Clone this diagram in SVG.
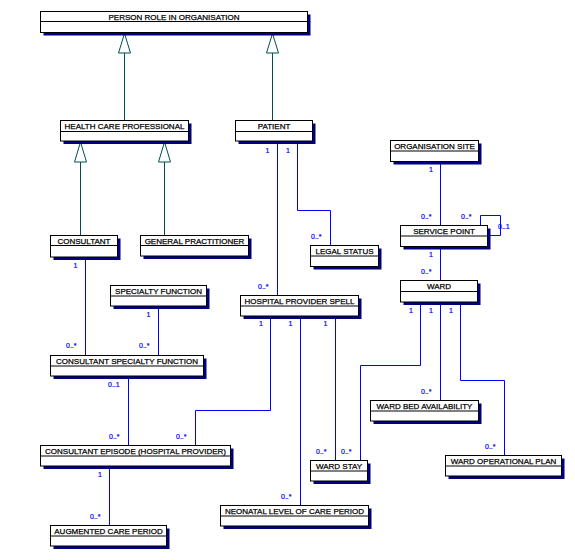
<svg xmlns="http://www.w3.org/2000/svg" width="575" height="560" viewBox="0 0 575 560">
<style>
.sh{fill:#000080}
.bx{fill:#fff;stroke:#000;stroke-width:1}
.dv{stroke:#000;stroke-width:1}
.t{font-family:"Liberation Sans",Arial,sans-serif;font-size:8px;fill:#000;stroke:#000;stroke-width:0.25;text-anchor:middle}
.c{fill:none;stroke:#0000ff;stroke-width:1}
.g{fill:none;stroke:#005050;stroke-width:1}
.gt{fill:#fff;stroke:#005050;stroke-width:1}
.m{font-family:"Liberation Sans",Arial,sans-serif;font-size:7px;fill:#0000ff;stroke:#0000ff;stroke-width:0.2}
</style>
<rect width="575" height="560" fill="#fff"/>
<g id="connectors">
<path class="g" d="M124.5,53V120.5"/><path class="gt" d="M124.5,33.5L118.5,53H130.5Z"/>
<path class="g" d="M272.5,53V120.5"/><path class="gt" d="M272.5,33.5L266.5,53H278.5Z"/>
<path class="g" d="M80.5,162V235.5"/><path class="gt" d="M80.5,142L74.5,162H86.5Z"/>
<path class="g" d="M164.5,162V235.5"/><path class="gt" d="M164.5,142L158.5,162H170.5Z"/>
<path class="c" d="M277.5,141V295.5"/>
<path class="c" d="M297.5,141V210.5H330.5V245.5"/>
<path class="c" d="M440.5,161.5V225.5"/>
<path class="c" d="M480.5,225.5V215.5H500.5V235.5H487.5"/>
<path class="c" d="M440.5,246.5V280.5"/>
<path class="c" d="M420.5,302V365.5H360.5V460.5"/>
<path class="c" d="M440.5,302V400.5"/>
<path class="c" d="M460.5,302V380.5H504.5V455.5"/>
<path class="c" d="M270.5,316V410.5H195.5V445.5"/>
<path class="c" d="M300.5,316V505.5"/>
<path class="c" d="M335.5,316V460.5"/>
<path class="c" d="M85.5,257V355.5"/>
<path class="c" d="M158.5,306V355.5"/>
<path class="c" d="M128.5,376V445.5"/>
<path class="c" d="M109.5,466V525.5"/>
<text class="m" x="265.5" y="153">1</text>
<text class="m" x="258" y="289">0..*</text>
<text class="m" x="286" y="153">1</text>
<text class="m" x="311" y="239">0..*</text>
<text class="m" x="429" y="172">1</text>
<text class="m" x="421" y="219">0..*</text>
<text class="m" x="461" y="219">0..*</text>
<text class="m" x="498" y="229">0..1</text>
<text class="m" x="429" y="257">1</text>
<text class="m" x="421" y="274">0..*</text>
<text class="m" x="409" y="313">1</text>
<text class="m" x="429" y="313">1</text>
<text class="m" x="449" y="313">1</text>
<text class="m" x="421" y="394">0..*</text>
<text class="m" x="485" y="449">0..*</text>
<text class="m" x="341" y="454">0..*</text>
<text class="m" x="316" y="454">0..*</text>
<text class="m" x="259" y="326">1</text>
<text class="m" x="288.5" y="326">1</text>
<text class="m" x="323.5" y="326">1</text>
<text class="m" x="176" y="439">0..*</text>
<text class="m" x="109" y="439">0..*</text>
<text class="m" x="108" y="387">0..1</text>
<text class="m" x="281" y="499">0..*</text>
<text class="m" x="98" y="477">1</text>
<text class="m" x="90" y="519">0..*</text>
<text class="m" x="73.5" y="268">1</text>
<text class="m" x="66" y="348">0..*</text>
<text class="m" x="146.5" y="317">1</text>
<text class="m" x="139" y="348">0..*</text>
</g>
<g id="person-role"><rect class="sh" x="43.5" y="14.5" width="267" height="21"/><rect class="bx" x="40.5" y="11.5" width="267" height="21"/><path class="dv" d="M40.5,21.5H307.5"/><text class="t" x="174" y="19.5">PERSON ROLE IN ORGANISATION</text></g>
<g id="hcp"><rect class="sh" x="63.5" y="123.5" width="128" height="20.5"/><rect class="bx" x="60.5" y="120.5" width="128" height="20.5"/><path class="dv" d="M60.5,131.5H188.5"/><text class="t" x="124.5" y="129">HEALTH CARE PROFESSIONAL</text></g>
<g id="patient"><rect class="sh" x="238.5" y="123.5" width="77" height="20.5"/><rect class="bx" x="235.5" y="120.5" width="77" height="20.5"/><path class="dv" d="M235.5,131.5H312.5"/><text class="t" x="274" y="129">PATIENT</text></g>
<g id="consultant"><rect class="sh" x="53.5" y="238.5" width="67" height="21.5"/><rect class="bx" x="50.5" y="235.5" width="67" height="21.5"/><path class="dv" d="M50.5,245.5H117.5"/><text class="t" x="84" y="244">CONSULTANT</text></g>
<g id="gp"><rect class="sh" x="143.5" y="238.5" width="108" height="20.5"/><rect class="bx" x="140.5" y="235.5" width="108" height="20.5"/><path class="dv" d="M140.5,245.5H248.5"/><text class="t" x="194.5" y="244">GENERAL PRACTITIONER</text></g>
<g id="legal-status"><rect class="sh" x="313.5" y="248.5" width="68" height="21"/><rect class="bx" x="310.5" y="245.5" width="68" height="21"/><path class="dv" d="M310.5,256H378.5"/><text class="t" x="344.5" y="254">LEGAL STATUS</text></g>
<g id="org-site"><rect class="sh" x="393.5" y="143.5" width="88" height="21"/><rect class="bx" x="390.5" y="140.5" width="88" height="21"/><path class="dv" d="M390.5,151H478.5"/><text class="t" x="434.5" y="149">ORGANISATION SITE</text></g>
<g id="service-point"><rect class="sh" x="403.5" y="228.5" width="87" height="21"/><rect class="bx" x="400.5" y="225.5" width="87" height="21"/><path class="dv" d="M400.5,236H487.5"/><text class="t" x="444" y="234">SERVICE POINT</text></g>
<g id="ward"><rect class="sh" x="403.5" y="283.5" width="77" height="21.5"/><rect class="bx" x="400.5" y="280.5" width="77" height="21.5"/><path class="dv" d="M400.5,291.5H477.5"/><text class="t" x="439" y="289">WARD</text></g>
<g id="specialty-function"><rect class="sh" x="113.5" y="288.5" width="96" height="20.5"/><rect class="bx" x="110.5" y="285.5" width="96" height="20.5"/><path class="dv" d="M110.5,296H206.5"/><text class="t" x="158.5" y="294">SPECIALTY FUNCTION</text></g>
<g id="hps"><rect class="sh" x="243.5" y="298.5" width="118" height="20.5"/><rect class="bx" x="240.5" y="295.5" width="118" height="20.5"/><path class="dv" d="M240.5,306H358.5"/><text class="t" x="299.5" y="304">HOSPITAL PROVIDER SPELL</text></g>
<g id="csf"><rect class="sh" x="53.5" y="358.5" width="153" height="20.5"/><rect class="bx" x="50.5" y="355.5" width="153" height="20.5"/><path class="dv" d="M50.5,366H203.5"/><text class="t" x="127" y="364">CONSULTANT SPECIALTY FUNCTION</text></g>
<g id="ward-bed"><rect class="sh" x="373.5" y="403.5" width="108" height="20.5"/><rect class="bx" x="370.5" y="400.5" width="108" height="20.5"/><path class="dv" d="M370.5,411H478.5"/><text class="t" x="424.5" y="409">WARD BED AVAILABILITY</text></g>
<g id="consultant-episode"><rect class="sh" x="43.5" y="448.5" width="190" height="20.5"/><rect class="bx" x="40.5" y="445.5" width="190" height="20.5"/><path class="dv" d="M40.5,456H230.5"/><text class="t" x="135.5" y="454">CONSULTANT EPISODE (HOSPITAL PROVIDER)</text></g>
<g id="ward-stay"><rect class="sh" x="313.5" y="463.5" width="57" height="20.5"/><rect class="bx" x="310.5" y="460.5" width="57" height="20.5"/><path class="dv" d="M310.5,471H367.5"/><text class="t" x="339" y="469">WARD STAY</text></g>
<g id="ward-op-plan"><rect class="sh" x="448.5" y="458.5" width="116" height="20.5"/><rect class="bx" x="445.5" y="455.5" width="116" height="20.5"/><path class="dv" d="M445.5,466H561.5"/><text class="t" x="503.5" y="464">WARD OPERATIONAL PLAN</text></g>
<g id="neonatal"><rect class="sh" x="223.5" y="508.5" width="148" height="20.5"/><rect class="bx" x="220.5" y="505.5" width="148" height="20.5"/><path class="dv" d="M220.5,516H368.5"/><text class="t" x="294.5" y="514">NEONATAL LEVEL OF CARE PERIOD</text></g>
<g id="augmented"><rect class="sh" x="53.5" y="528.5" width="116" height="20.5"/><rect class="bx" x="50.5" y="525.5" width="116" height="20.5"/><path class="dv" d="M50.5,536H166.5"/><text class="t" x="108.5" y="534">AUGMENTED CARE PERIOD</text></g>
</svg>
